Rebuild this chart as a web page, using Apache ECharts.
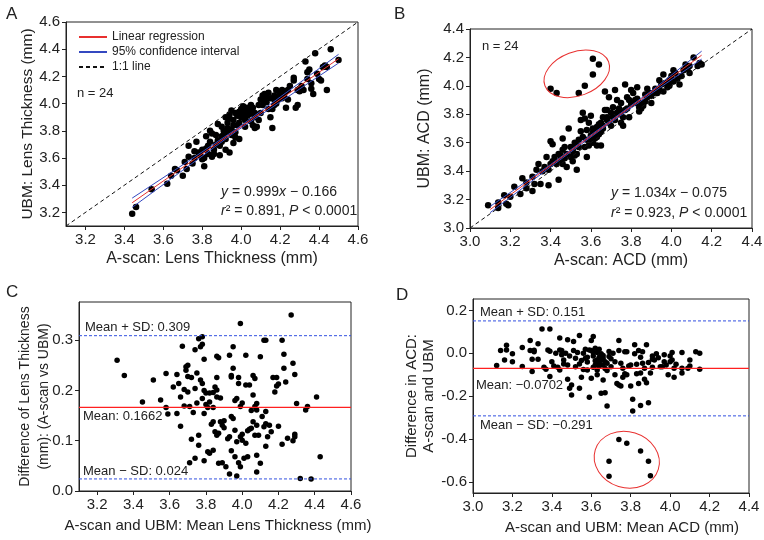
<!DOCTYPE html>
<html><head><meta charset="utf-8">
<script src="https://cdn.jsdelivr.net/npm/echarts@6/dist/echarts.min.js"></script>
<style>html,body{margin:0;padding:0;background:#fff}#c{width:764px;height:540px}</style>
</head><body><div id="c"></div>
<script>
const FONT = '"Liberation Sans", Arial, Helvetica, sans-serif';

// ---------- Panel A : Lens thickness, A-scan vs UBM ----------
const pointsA = [
[3.44,3.19],[3.46,3.24],[3.54,3.37],[3.62,3.41],[3.64,3.47],[3.66,3.52],[3.67,3.51],[3.70,3.47],[3.71,3.57],[3.72,3.52],
[3.73,3.69],[3.73,3.61],[3.75,3.56],[3.76,3.60],[3.77,3.72],[3.78,3.64],[3.79,3.62],[3.80,3.59],[3.81,3.54],[3.81,3.60],
[3.82,3.67],[3.82,3.76],[3.83,3.63],[3.83,3.69],[3.84,3.72],[3.85,3.78],[3.86,3.66],[3.86,3.63],[3.87,3.70],[3.88,3.73],
[3.89,3.62],[3.89,3.69],[3.90,3.76],[3.90,3.83],[3.91,3.80],[3.91,3.77],[3.92,3.74],[3.92,3.66],[3.93,3.79],[3.93,3.82],
[3.93,3.86],[3.94,3.89],[3.94,3.92],[3.94,3.64],[3.95,3.81],[3.95,3.77],[3.96,3.84],[3.96,3.88],[3.97,3.79],[3.97,3.75],
[3.98,3.84],[3.98,3.91],[3.99,3.74],[3.99,3.94],[4.00,3.96],[4.00,3.90],[4.01,3.98],[4.01,3.92],[4.02,3.95],[4.02,3.88],
[4.03,3.91],[4.03,3.97],[4.04,3.93],[4.04,3.92],[4.05,3.95],[4.05,3.87],[4.06,3.84],[4.07,3.93],[4.07,3.82],[4.07,3.90],
[4.08,3.83],[4.09,3.99],[4.10,3.93],[4.10,4.03],[4.11,4.06],[4.11,3.99],[4.12,4.02],[4.12,4.07],[4.13,4.01],[4.14,3.96],
[4.15,4.04],[4.15,3.90],[4.16,3.82],[4.16,3.96],[4.17,3.99],[4.17,4.03],[4.17,4.06],[4.18,4.10],[4.19,4.03],[4.20,4.08],
[4.20,4.06],[4.21,4.10],[4.22,4.06],[4.23,4.09],[4.23,3.97],[4.24,4.03],[4.24,4.10],[4.25,4.13],[4.27,4.17],[4.27,4.19],
[4.28,3.97],[4.29,3.99],[4.29,4.10],[4.30,4.09],[4.30,4.11],[4.31,4.13],[4.32,4.10],[4.33,4.31],[4.34,4.23],[4.34,4.18],
[4.35,4.25],[4.36,4.15],[4.36,4.11],[4.37,4.07],[4.38,4.37],[4.39,4.22],[4.40,4.18],[4.41,4.17],[4.42,4.27],[4.43,4.28],
[4.44,4.27],[4.44,4.10],[4.46,4.40],[4.50,4.32],
[3.84,3.80],[3.87,3.77],[3.88,3.85],[3.92,3.90],[3.95,3.95],[3.97,3.93],[3.99,3.86],[4.02,3.83],[4.05,3.99],[4.06,3.97],
[4.09,3.88],[4.13,4.05],[4.14,4.08],[4.18,4.00],[4.21,4.04],[3.80,3.66],[3.85,3.61],[3.76,3.65],[3.90,3.72],[3.96,3.71]
];
const regressionA = [[3.44,3.271],[4.50,4.330]];
const ciUpperA = [[3.44,3.305],[3.70,3.550],[3.97,3.808],[4.20,4.048],[4.50,4.362]];
const ciLowerA = [[3.44,3.237],[3.70,3.510],[3.97,3.792],[4.20,4.012],[4.50,4.298]];
const identityA = [[3.1,3.1],[4.6,4.6]];
const ticksA = [3.2,3.4,3.6,3.8,4.0,4.2,4.4,4.6];

// ---------- Panel B : ACD, A-scan vs UBM ----------
const pointsB = [
[3.09,3.16],[3.14,3.18],[3.14,3.14],[3.17,3.23],[3.18,3.17],[3.19,3.16],[3.20,3.22],[3.22,3.29],[3.25,3.24],[3.26,3.35],
[3.28,3.32],[3.28,3.28],[3.31,3.36],[3.31,3.26],[3.32,3.31],[3.33,3.41],[3.34,3.45],[3.35,3.31],[3.37,3.43],[3.38,3.50],
[3.39,3.41],[3.39,3.30],[3.40,3.45],[3.40,3.61],[3.41,3.47],[3.41,3.59],[3.42,3.50],[3.43,3.45],[3.44,3.52],[3.44,3.34],
[3.45,3.48],[3.45,3.51],[3.46,3.63],[3.46,3.45],[3.47,3.49],[3.48,3.43],[3.48,3.52],[3.49,3.70],[3.50,3.57],[3.51,3.54],
[3.51,3.47],[3.51,3.56],[3.52,3.51],[3.52,3.60],[3.53,3.52],[3.53,3.41],[3.54,3.57],[3.54,3.62],[3.55,3.68],[3.55,3.76],
[3.56,3.81],[3.56,3.64],[3.57,3.57],[3.57,3.77],[3.58,3.50],[3.58,3.62],[3.58,3.69],[3.59,3.58],[3.59,3.74],[3.60,3.65],
[3.60,3.79],[3.60,3.62],[3.61,3.67],[3.61,3.70],[3.62,3.63],[3.62,3.68],[3.63,3.58],[3.63,3.71],[3.63,3.68],[3.64,3.73],
[3.64,3.70],[3.65,3.58],[3.65,3.68],[3.65,3.74],[3.66,3.78],[3.67,3.83],[3.67,3.96],[3.68,3.78],[3.68,3.76],[3.68,3.83],
[3.69,3.92],[3.70,3.81],[3.70,3.72],[3.71,3.85],[3.72,3.97],[3.73,3.81],[3.73,3.90],[3.74,3.84],[3.74,3.80],[3.75,3.74],
[3.75,3.88],[3.76,3.72],[3.77,3.83],[3.77,4.01],[3.78,3.92],[3.79,3.90],[3.79,3.78],[3.80,3.97],[3.80,3.87],[3.81,3.95],
[3.82,3.90],[3.83,3.99],[3.83,3.91],[3.84,3.85],[3.84,3.82],[3.85,3.88],[3.86,3.86],[3.87,3.94],[3.88,3.98],[3.88,3.92],
[3.89,3.95],[3.90,3.88],[3.91,3.95],[3.92,3.98],[3.93,3.95],[3.94,4.04],[3.94,3.97],[3.95,4.01],[3.96,4.08],[3.97,4.02],
[3.98,3.99],[3.99,4.04],[4.00,4.07],[4.01,4.11],[4.01,4.03],[4.02,4.09],[4.04,4.01],[4.05,4.07],[4.06,4.11],[4.07,4.15],
[4.09,4.14],[4.11,4.20],[4.13,4.14],[4.14,4.16],[4.15,4.15],
[3.62,3.66],[3.64,3.66],[3.66,3.72],[3.63,3.64],[3.61,3.60],[3.66,3.70],[3.69,3.74],[3.71,3.78],[3.72,3.76],[3.75,3.82],
[3.76,3.78],[3.78,3.84],[3.82,3.88],[3.85,3.84],[3.87,3.89],[3.90,3.93],[3.96,3.96],[3.99,4.00],[4.03,4.05],[4.08,4.12],
[4.09,4.09],[3.36,3.40],[3.42,3.47],[3.46,3.55],[3.50,3.50],[3.47,3.57],[3.53,3.58],
[3.40,3.98],[3.43,3.95],[3.54,3.95],[3.57,4.00],[3.61,4.08],[3.61,4.19],[3.64,4.15]
];
const regressionB = [[3.10,3.130],[4.15,4.216]];
const ciUpperB = [[3.10,3.152],[3.40,3.446],[3.65,3.706],[3.90,3.964],[4.15,4.244]];
const ciLowerB = [[3.10,3.108],[3.40,3.430],[3.65,3.692],[3.90,3.946],[4.15,4.188]];
const identityB = [[3.0,3.0],[4.4,4.4]];
const ticksB = [3.0,3.2,3.4,3.6,3.8,4.0,4.2,4.4];
const outlierCentreB = [[3.53,4.085]];

// ---------- Panel C : Bland-Altman, lens thickness ----------
const pointsC = [
[3.31,0.260],[3.35,0.230],[3.45,0.177],[3.51,0.221],[3.55,0.181],[3.58,0.234],[3.58,0.166],[3.59,0.153],[3.62,0.207],[3.64,0.154],
[3.64,0.232],[3.65,0.214],[3.66,0.129],[3.66,0.187],[3.67,0.288],[3.68,0.202],[3.68,0.169],[3.69,0.247],[3.69,0.240],[3.70,0.228],
[3.70,0.197],[3.71,0.168],[3.71,0.056],[3.72,0.226],[3.72,0.103],[3.73,0.156],[3.74,0.065],[3.74,0.204],[3.74,0.281],[3.75,0.175],
[3.75,0.235],[3.76,0.091],[3.76,0.303],[3.76,0.111],[3.77,0.287],[3.77,0.221],[3.78,0.292],[3.78,0.214],[3.78,0.307],[3.78,0.184],
[3.79,0.154],[3.79,0.262],[3.79,0.060],[3.79,0.200],[3.80,0.172],[3.81,0.078],[3.81,0.166],[3.82,0.195],[3.82,0.075],[3.82,0.177],
[3.83,0.133],[3.84,0.166],[3.84,0.081],[3.84,0.138],[3.85,0.118],[3.85,0.207],[3.86,0.226],[3.86,0.268],[3.86,0.187],[3.86,0.111],
[3.87,0.265],[3.87,0.055],[3.87,0.115],[3.88,0.185],[3.88,0.138],[3.89,0.131],[3.89,0.056],[3.90,0.126],[3.91,0.048],[3.93,0.108],
[3.93,0.034],[3.93,0.270],[3.94,0.148],[3.94,0.230],[3.94,0.227],[3.94,0.080],[3.95,0.144],[3.95,0.287],[3.95,0.244],[3.96,0.121],
[3.96,0.068],[3.97,0.030],[3.97,0.098],[3.97,0.184],[3.98,0.214],[3.98,0.226],[3.98,0.056],[3.99,0.333],[3.99,0.048],[3.99,0.168],
[3.99,0.108],[4.00,0.175],[4.00,0.113],[4.01,0.065],[4.02,0.095],[4.02,0.211],[4.02,0.270],[4.03,0.068],[4.04,0.123],[4.04,0.211],
[4.05,0.125],[4.06,0.191],[4.06,0.230],[4.06,0.138],[4.07,0.111],[4.07,0.224],[4.07,0.168],[4.08,0.038],[4.08,0.071],[4.08,0.131],
[4.08,0.161],[4.08,0.174],[4.09,0.111],[4.10,0.055],[4.10,0.267],[4.11,0.148],[4.12,0.300],[4.12,0.128],[4.13,0.134],[4.13,0.089],
[4.13,0.300],[4.13,0.158],[4.14,0.108],[4.15,0.131],[4.16,0.118],[4.17,0.226],[4.18,0.197],[4.19,0.226],[4.19,0.209],[4.20,0.213],
[4.20,0.129],[4.22,0.300],[4.22,0.093],[4.23,0.272],[4.23,0.244],[4.24,0.217],[4.25,0.105],[4.27,0.350],[4.28,0.100],[4.28,0.254],
[4.29,0.232],[4.29,0.113],[4.29,0.108],[4.30,0.174],[4.32,0.025],[4.35,0.161],[4.36,0.168],[4.38,0.024],[4.41,0.187],[4.43,0.068],
[3.84,0.196],[3.86,0.201],[3.90,0.140],[3.92,0.104],[3.96,0.180],[4.00,0.101],[4.03,0.120],[4.05,0.160],[3.80,0.195],[3.70,0.250]
];
const limitsC = { upper: 0.309, mean: 0.1662, lower: 0.024 };
const xExtentC = [3.1, 4.6];
const ticksCx = [3.2,3.4,3.6,3.8,4.0,4.2,4.4,4.6];
const ticksCy = [0.0,0.1,0.2,0.3];

// ---------- Panel D : Bland-Altman, ACD ----------
const pointsD = [
[3.12,-0.057],[3.14,0.013],[3.16,-0.031],[3.17,0.038],[3.17,0.016],[3.20,-0.039],[3.20,-0.002],[3.25,0.027],[3.25,-0.061],[3.29,0.060],
[3.29,0.013],[3.30,-0.028],[3.30,-0.085],[3.31,0.007],[3.31,0.015],[3.33,0.045],[3.33,-0.028],[3.35,0.113],[3.36,-0.065],[3.37,-0.074],
[3.38,0.016],[3.39,0.113],[3.39,-0.108],[3.39,0.010],[3.40,-0.039],[3.41,-0.059],[3.43,-0.065],[3.44,-0.077],[3.44,0.016],[3.44,0.071],
[3.45,0.013],[3.45,-0.007],[3.46,-0.031],[3.47,0.001],[3.48,-0.054],[3.48,0.063],[3.48,-0.120],[3.49,-0.012],[3.49,-0.163],[3.50,-0.147],
[3.50,-0.194],[3.51,0.013],[3.51,0.055],[3.52,-0.023],[3.52,-0.062],[3.53,0.004],[3.54,0.083],[3.54,-0.163],[3.54,-0.049],[3.55,-0.033],
[3.55,-0.111],[3.56,0.001],[3.57,-0.023],[3.57,0.019],[3.58,-0.077],[3.58,-0.018],[3.59,0.016],[3.59,-0.204],[3.60,0.060],[3.60,0.013],
[3.60,-0.116],[3.61,-0.065],[3.61,0.079],[3.61,0.004],[3.61,-0.012],[3.62,0.024],[3.62,-0.054],[3.63,-0.031],[3.63,0.004],[3.63,-0.077],
[3.64,-0.018],[3.64,-0.043],[3.64,0.019],[3.65,-0.186],[3.65,-0.031],[3.65,-0.002],[3.66,-0.054],[3.66,-0.023],[3.66,-0.124],[3.67,-0.183],
[3.67,-0.039],[3.67,-0.071],[3.68,-0.245],[3.68,-0.046],[3.69,-0.015],[3.69,0.009],[3.70,-0.062],[3.71,0.001],[3.72,-0.100],[3.72,-0.039],
[3.73,-0.140],[3.74,0.060],[3.74,-0.147],[3.74,0.013],[3.75,-0.046],[3.75,-0.152],[3.76,-0.069],[3.76,-0.111],[3.77,0.008],[3.77,-0.095],
[3.78,0.008],[3.78,-0.100],[3.79,-0.059],[3.80,-0.054],[3.80,-0.152],[3.81,-0.214],[3.81,-0.268],[3.82,-0.002],[3.82,0.040],[3.83,-0.051],
[3.83,-0.095],[3.84,0.013],[3.84,-0.140],[3.85,-0.243],[3.85,-0.018],[3.85,-0.092],[3.86,-0.046],[3.86,0.007],[3.87,-0.120],[3.87,-0.069],
[3.88,-0.137],[3.88,0.040],[3.89,-0.230],[3.89,-0.043],[3.90,-0.092],[3.91,-0.012],[3.91,-0.028],[3.91,-0.065],[3.92,-0.031],[3.93,-0.002],
[3.94,-0.020],[3.95,-0.062],[3.96,-0.062],[3.97,-0.039],[3.97,-0.007],[3.98,-0.054],[3.99,-0.100],[4.00,-0.039],[4.00,-0.012],[4.01,-0.031],
[4.01,0.004],[4.02,-0.069],[4.02,-0.111],[4.03,-0.051],[4.06,-0.069],[4.06,-0.092],[4.06,0.004],[4.09,-0.069],[4.10,-0.031],[4.10,-0.059],
[4.13,0.008],[4.15,0.001],[4.15,-0.074],
[3.62,-0.035],[3.64,-0.060],[3.66,-0.010],[3.63,-0.100],[3.68,-0.080],[3.58,-0.040],[3.56,-0.075],[3.46,-0.050],[3.42,0.000],[3.70,-0.025],
[3.69,-0.502],[3.69,-0.572],[3.74,-0.401],[3.78,-0.419],[3.85,-0.455],[3.89,-0.502],[3.90,-0.570]
];
const limitsD = { upper: 0.151, mean: -0.0702, lower: -0.291 };
const xExtentD = [3.0, 4.4];
const ticksDx = [3.0,3.2,3.4,3.6,3.8,4.0,4.2,4.4];
const ticksDy = [-0.6,-0.4,-0.2,0.0,0.2];
const outlierCentreD = [[3.78,-0.495]];

// ---------- build ----------
const INK = '#222';
const RED = '#e8302f';
const BLUE = '#3448c0';
const DASHBLUE = '#3350e0';
const NONE = 'rgba(0,0,0,0)';

function valAxis(o) {
  return {
    type: 'value', gridIndex: o.g, min: o.min, max: o.max,
    name: o.name, nameLocation: 'middle', nameGap: o.gap, nameMoveOverlap: false,
    nameTextStyle: { fontFamily: FONT, fontSize: o.fs || 16, color: INK, lineHeight: o.lh || 20,
                     padding: o.pad || 0 },
    axisLine: { show: true, onZero: false, lineStyle: { color: INK, width: 1 } },
    axisTick: { show: true, inside: false, length: 4, customValues: o.ticks, lineStyle: { color: INK, width: 1 } },
    axisLabel: { customValues: o.ticks, formatter: v => v.toFixed(1), fontFamily: FONT, fontSize: 15, color: INK, margin: 6 },
    splitLine: { show: false }
  };
}
function grid(l, r, t, b) {
  return { left: l, right: r, top: t, bottom: b, show: true, borderColor: INK, borderWidth: 1,
           backgroundColor: 'transparent', containLabel: false, outerBoundsMode: 'none' };
}
function lineSeries(name, data, idx, color, dashed, width) {
  return { type: 'line', name, data, xAxisIndex: idx, yAxisIndex: idx, symbol: 'none', silent: true,
           lineStyle: { color, width: width || 1, type: dashed ? (Array.isArray(dashed) ? dashed : [4, 3]) : 'solid' },
           itemStyle: { color }, z: 4 };
}
function scatter(data, idx, size) {
  return { type: 'scatter', data, xAxisIndex: idx, yAxisIndex: idx, symbolSize: size, silent: true,
           itemStyle: { color: '#000', opacity: 1 }, z: 3 };
}
function ellipseSeries(data, idx, rx, ry, rot) {
  return {
    type: 'custom', data, xAxisIndex: idx, yAxisIndex: idx, silent: true, z: 6,
    renderItem: (p, api) => {
      const c = api.coord([api.value(0), api.value(1)]);
      return { type: 'ellipse', x: c[0], y: c[1], rotation: rot,
               shape: { cx: 0, cy: 0, rx, ry },
               style: { fill: 'none', stroke: RED, lineWidth: 1 } };
    }
  };
}
// horizontal limit lines as line series across the x extent
function limitSeries(lim, ext, idx) {
  const h = v => [[ext[0], v], [ext[1], v]];
  return [
    lineSeries('', h(lim.upper), idx, DASHBLUE, [3, 2], 1),
    lineSeries('', h(lim.lower), idx, DASHBLUE, [3, 2], 1),
    lineSeries('', h(lim.mean), idx, '#ff2020', false, 1.3)
  ];
}
// labels for the limit lines (transparent markLine, label only)
function limitLabels(lim, fmt, cfg) {
  const lbl = (txt, pos, dist) => ({ show: true, formatter: txt, position: pos, distance: dist,
      fontFamily: FONT, fontSize: 13, color: INK, opacity: 1 });
  const ls = { color: NONE, width: 1 };
  return {
    symbol: 'none', silent: true, animation: false,
    lineStyle: ls,
    data: [
      { yAxis: lim.upper, lineStyle: ls, label: lbl('Mean + SD: ' + fmt(lim.upper), 'insideStartTop', cfg.upper) },
      { yAxis: lim.mean, lineStyle: ls, label: lbl('Mean: ' + fmt(lim.mean), 'insideStartBottom', cfg.mean) },
      { yAxis: lim.lower, lineStyle: ls, label: lbl('Mean \u2212 SD: ' + fmt(lim.lower), cfg.lowerPos, cfg.lower) }
    ]
  };
}
const sgn = (v, d) => (v < 0 ? '\u2212' : '') + Math.abs(v).toFixed(d);

const option = {
  animation: false,
  backgroundColor: '#fff',
  grid: [ grid(66, 406, 22, 314), grid(470, 12, 29, 312), grid(79, 413, 302, 49), grid(473, 15, 299, 47) ],
  xAxis: [
    valAxis({ g: 0, min: 3.1, max: 4.6, ticks: ticksA, name: 'A-scan: Lens Thickness (mm)', gap: 23 }),
    valAxis({ g: 1, min: 3.0, max: 4.4, ticks: ticksB, name: 'A-scan: ACD (mm)', gap: 23, pad: [0, 0, 0, 20] }),
    valAxis({ g: 2, min: xExtentC[0], max: xExtentC[1], ticks: ticksCx, name: 'A-scan and UBM: Mean Lens Thickness (mm)', gap: 25, fs: 15, pad: [0, 0, 0, 6] }),
    valAxis({ g: 3, min: xExtentD[0], max: xExtentD[1], ticks: ticksDx, name: 'A-scan and UBM: Mean ACD (mm)', gap: 25, fs: 15, pad: [0, 0, 0, 22] })
  ],
  yAxis: [
    valAxis({ g: 0, min: 3.1, max: 4.6, ticks: ticksA, name: 'UBM: Lens Thickness (mm)', gap: 28, fs: 15.5 }),
    valAxis({ g: 1, min: 3.0, max: 4.4, ticks: ticksB, name: 'UBM: ACD (mm)', gap: 35 }),
    valAxis({ g: 2, min: 0, max: 0.376, ticks: ticksCy, name: 'Difference of Lens Thickness\n(mm): (A-scan vs UBM)', gap: 25, lh: 19, fs: 14 }),
    valAxis({ g: 3, min: -0.65, max: 0.253, ticks: ticksDy, name: 'Difference in ACD:\nA-scan and UBM', gap: 36, lh: 17, fs: 15 })
  ],
  legend: {
    left: 73, top: 26, orient: 'vertical', itemWidth: 28, itemHeight: 12, itemGap: 3,
    data: ['Linear regression', '95% confidence interval', '1:1 line'],
    itemStyle: { opacity: 0 },
    textStyle: { fontFamily: FONT, fontSize: 12, color: INK }, selectedMode: false
  },
  series: [
    scatter(pointsA, 0, 6.5),
    lineSeries('1:1 line', identityA, 0, '#111', true),
    lineSeries('95% confidence interval', ciUpperA, 0, BLUE, false),
    lineSeries('95% confidence interval', ciLowerA, 0, BLUE, false),
    lineSeries('Linear regression', regressionA, 0, RED, false),

    scatter(pointsB, 1, 6.5),
    lineSeries('1:1 line', identityB, 1, '#111', true),
    lineSeries('95% confidence interval', ciUpperB, 1, BLUE, false),
    lineSeries('95% confidence interval', ciLowerB, 1, BLUE, false),
    lineSeries('Linear regression', regressionB, 1, RED, false),
    ellipseSeries(outlierCentreB, 1, 34, 22, 0.36),

    ...limitSeries(limitsC, xExtentC, 2),
    Object.assign(scatter(pointsC, 2, 5.5), {
      markLine: limitLabels(limitsC, v => v.toString(), { upper: [6, 1], mean: [4, 4], lower: [4, 3], lowerPos: 'insideStartTop' })
    }),
    ...limitSeries(limitsD, xExtentD, 3),
    Object.assign(scatter(pointsD, 3, 5.5), {
      markLine: limitLabels(limitsD, v => sgn(v, v === limitsD.mean ? 4 : 3), { upper: [7, 2], mean: [3, 11], lower: [7, 3], lowerPos: 'insideStartBottom' })
    }),
    ellipseSeries(outlierCentreD, 3, 33, 28, -0.3)
  ],
  graphic: [
    { type: 'text', left: 6, top: 6, style: { text: 'A', fontFamily: FONT, fontSize: 17, fill: INK } },
    { type: 'text', left: 394, top: 6, style: { text: 'B', fontFamily: FONT, fontSize: 17, fill: INK } },
    { type: 'text', left: 6, top: 284, style: { text: 'C', fontFamily: FONT, fontSize: 17, fill: INK } },
    { type: 'text', left: 396, top: 287, style: { text: 'D', fontFamily: FONT, fontSize: 17, fill: INK } },
    { type: 'text', left: 77, top: 87, style: { text: 'n = 24', fontFamily: FONT, fontSize: 13, fill: INK } },
    { type: 'text', left: 482, top: 40, style: { text: 'n = 24', fontFamily: FONT, fontSize: 13, fill: INK } },
    { type: 'text', left: 221, top: 183, style: {
        text: '{i|y} = 0.999{i|x} \u2212 0.166\n{i|r}\u00b2 = 0.891, {i|P} < 0.0001',
        fontFamily: FONT, fontSize: 14, fill: INK, lineHeight: 19,
        rich: { i: { fontStyle: 'italic', fontFamily: FONT, fontSize: 14, fill: INK, lineHeight: 19 } } } },
    { type: 'text', left: 611, top: 183, style: {
        text: '{i|y} = 1.034{i|x} \u2212 0.075\n{i|r}\u00b2 = 0.923, {i|P} < 0.0001',
        fontFamily: FONT, fontSize: 14, fill: INK, lineHeight: 20,
        rich: { i: { fontStyle: 'italic', fontFamily: FONT, fontSize: 14, fill: INK, lineHeight: 20 } } } }
  ]
};

const chart = echarts.init(document.getElementById('c'), null, { renderer: 'canvas' });
chart.setOption(option);
</script>
</body></html>
